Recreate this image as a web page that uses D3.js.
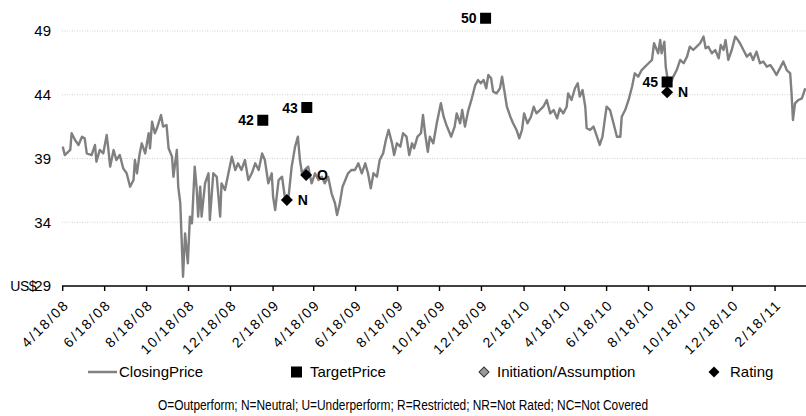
<!DOCTYPE html>
<html><head><meta charset="utf-8">
<script src="https://cdn.jsdelivr.net/npm/d3@7"></script>
<style>body{margin:0;background:#fff}svg{display:block}text{font-family:"Liberation Sans",Arial,sans-serif}</style>
</head><body><svg id="c" width="806" height="416"></svg>
<script>
const closeDates = ["2008-04-18","2008-04-21","2008-04-29","2008-05-01","2008-05-06","2008-05-11","2008-05-16","2008-05-20","2008-05-23","2008-05-30","2008-06-04","2008-06-06","2008-06-11","2008-06-16","2008-06-21","2008-06-23","2008-06-26","2008-07-01","2008-07-05","2008-07-10","2008-07-15","2008-07-20","2008-07-25","2008-07-30","2008-08-01","2008-08-04","2008-08-08","2008-08-11","2008-08-16","2008-08-21","2008-08-23","2008-08-26","2008-08-30","2008-09-02","2008-09-08","2008-09-11","2008-09-16","2008-09-19","2008-09-24","2008-09-26","2008-10-01","2008-10-03","2008-10-06","2008-10-08","2008-10-10","2008-10-13","2008-10-17","2008-10-20","2008-10-23","2008-10-27","2008-10-30","2008-11-01","2008-11-04","2008-11-06","2008-11-11","2008-11-16","2008-11-18","2008-11-23","2008-11-28","2008-12-03","2008-12-05","2008-12-10","2008-12-15","2008-12-20","2008-12-25","2008-12-29","2009-01-03","2009-01-08","2009-01-13","2009-01-18","2009-01-23","2009-01-28","2009-02-02","2009-02-06","2009-02-11","2009-02-16","2009-02-18","2009-02-21","2009-02-26","2009-03-03","2009-03-07","2009-03-12","2009-03-17","2009-03-22","2009-03-26","2009-03-29","2009-04-01","2009-04-05","2009-04-10","2009-04-15","2009-04-20","2009-04-25","2009-04-30","2009-05-04","2009-05-09","2009-05-14","2009-05-19","2009-05-22","2009-05-26","2009-05-30","2009-06-03","2009-06-07","2009-06-12","2009-06-17","2009-06-22","2009-06-27","2009-07-02","2009-07-06","2009-07-10","2009-07-14","2009-07-19","2009-07-23","2009-07-28","2009-08-01","2009-08-05","2009-08-10","2009-08-13","2009-08-17","2009-08-22","2009-08-26","2009-08-31","2009-09-04","2009-09-08","2009-09-11","2009-09-16","2009-09-21","2009-09-24","2009-09-27","2009-10-01","2009-10-04","2009-10-09","2009-10-14","2009-10-20","2009-10-24","2009-10-28","2009-11-04","2009-11-09","2009-11-12","2009-11-17","2009-11-20","2009-11-24","2009-11-29","2009-12-04","2009-12-09","2009-12-13","2009-12-17","2009-12-21","2009-12-25","2009-12-28","2010-01-01","2010-01-04","2010-01-09","2010-01-14","2010-01-17","2010-01-24","2010-01-29","2010-02-02","2010-02-07","2010-02-11","2010-02-15","2010-02-18","2010-02-23","2010-02-28","2010-03-04","2010-03-08","2010-03-13","2010-03-18","2010-03-23","2010-03-28","2010-04-02","2010-04-07","2010-04-11","2010-04-16","2010-04-21","2010-04-23","2010-04-28","2010-05-03","2010-05-07","2010-05-10","2010-05-14","2010-05-18","2010-05-20","2010-05-25","2010-05-30","2010-06-04","2010-06-08","2010-06-12","2010-06-16","2010-06-18","2010-06-23","2010-06-28","2010-07-03","2010-07-08","2010-07-10","2010-07-15","2010-07-20","2010-07-25","2010-07-29","2010-08-03","2010-08-08","2010-08-13","2010-08-18","2010-08-23","2010-08-26","2010-09-01","2010-09-04","2010-09-06","2010-09-10","2010-09-12","2010-09-15","2010-09-20","2010-09-23","2010-09-28","2010-10-03","2010-10-08","2010-10-13","2010-10-17","2010-10-22","2010-10-27","2010-11-01","2010-11-06","2010-11-09","2010-11-13","2010-11-18","2010-11-23","2010-11-28","2010-12-01","2010-12-05","2010-12-08","2010-12-12","2010-12-17","2010-12-22","2010-12-26","2010-12-29","2011-01-03","2011-01-08","2011-01-13","2011-01-17","2011-01-22","2011-01-27","2011-02-01","2011-02-06","2011-02-11","2011-02-16","2011-02-20","2011-02-25","2011-03-02","2011-03-07","2011-03-12","2011-03-14","2011-03-16","2011-03-19","2011-03-24","2011-03-29","2011-04-03"];
const closePrices = [39.93,39.27,39.67,40.98,40.45,40.06,40.71,40.58,39.4,39.27,40.06,38.75,39.67,39.4,40.84,39.93,38.36,39.67,38.88,39.27,38.23,37.84,36.79,37.31,38.88,37.84,39.4,40.19,39.4,40.98,39.8,41.89,40.98,41.37,42.41,41.5,41.63,39.8,39.14,37.57,39.67,36.79,35.49,32.6,29.73,33.13,30.78,34.44,33.92,38.36,36.53,34.44,36.79,34.44,37.05,37.84,34.18,37.84,37.57,34.44,37.05,36.53,37.84,39.14,38.1,38.62,38.1,38.88,37.31,37.84,38.62,38.1,39.4,38.88,37.05,37.84,36.0,34.96,37.31,37.57,36.0,35.75,38.36,39.93,40.71,38.88,37.84,38.1,38.36,37.05,37.84,37.31,37.57,37.05,37.57,36.27,35.49,34.57,35.49,36.79,37.31,37.84,38.1,38.1,38.62,37.84,38.62,37.84,36.66,37.84,37.57,38.88,39.4,40.45,41.24,40.19,39.27,40.19,39.93,40.98,40.71,39.27,40.19,39.8,40.71,40.98,42.41,40.98,39.53,40.71,40.19,41.76,43.33,42.28,41.63,40.71,41.5,42.54,41.76,42.8,41.5,42.8,43.72,44.76,45.16,44.9,45.16,44.51,45.55,45.29,44.24,44.11,44.51,45.42,43.06,42.28,41.76,41.24,40.58,41.24,42.54,41.76,42.28,43.06,42.54,42.8,43.06,43.59,42.54,42.8,42.15,42.93,42.54,43.06,44.11,43.59,44.51,44.9,43.85,44.37,43.06,41.37,41.24,41.5,40.71,40.06,40.71,42.28,43.06,42.8,41.76,40.71,40.71,42.28,42.8,43.59,44.63,45.68,45.42,45.94,46.2,46.47,46.73,48.04,47.25,48.29,47.25,48.16,46.2,45.16,45.02,45.42,45.94,46.73,46.47,46.99,47.77,47.51,47.77,48.04,48.56,47.64,47.77,47.25,47.51,46.86,47.9,47.51,48.29,46.73,47.51,48.56,48.29,48.04,47.51,46.99,47.25,46.73,47.38,46.47,46.6,46.2,46.33,45.94,45.55,46.07,46.6,45.94,45.68,44.11,42.02,43.33,43.59,43.72,44.51];
const targetDates = ["2009-02-03","2009-04-08","2009-12-24","2010-09-14"];
const targetValues = [42,43,50,45];
const ratingDates = ["2009-03-10","2009-04-07","2010-09-14"];
const ratingValues = [35.75,37.7,44.2];
const ratingLabels = ["N","O","N"];
const yTicks = [29,34,39,44,49];
const xTickDates = ["2008-04-18","2008-06-18","2008-08-18","2008-10-18","2008-12-18","2009-02-18","2009-04-18","2009-06-18","2009-08-18","2009-10-18","2009-12-18","2010-02-18","2010-04-18","2010-06-18","2010-08-18","2010-10-18","2010-12-18","2011-02-18"];
const xTickLabels = ["4/18/08","6/18/08","8/18/08","10/18/08","12/18/08","2/18/09","4/18/09","6/18/09","8/18/09","10/18/09","12/18/09","2/18/10","4/18/10","6/18/10","8/18/10","10/18/10","12/18/10","2/18/11"];
const legendLabels = ["ClosingPrice","TargetPrice","Initiation/Assumption","Rating"];
const footnote = "O=Outperform; N=Neutral; U=Underperform; R=Restricted; NR=Not Rated; NC=Not Covered";

const parse = d3.utcParse("%Y-%m-%d");
const svg = d3.select("#c");
const x = d3.scaleUtc().domain([parse("2008-04-18"), parse("2011-04-04")]).range([62.7, 806]);
const y = d3.scaleLinear().domain([29, 49]).range([286, 31]);

// gridlines
svg.append("g").selectAll("line").data(yTicks.slice(1)).join("line")
  .attr("x1", 62).attr("x2", 806).attr("y1", d => y(d)).attr("y2", d => y(d))
  .attr("stroke", "#b0b0b0").attr("stroke-width", 0.6).attr("stroke-dasharray", "1,1.5");

// y labels
svg.append("g").selectAll("text").data(yTicks).join("text")
  .attr("x", 51).attr("y", d => y(d)).attr("dy", "0.36em").attr("text-anchor", "end")
  .attr("font-size", 15).attr("fill", "#000").text(d => d);
svg.append("text").attr("x", 36).attr("y", y(29)).attr("dy", "0.36em").attr("text-anchor", "end")
  .attr("font-size", 14).attr("letter-spacing", -0.5).attr("fill", "#000").text("US$");

// price line
const pts = closeDates.map((d, i) => [parse(d), closePrices[i]]);
svg.append("path").datum(pts)
  .attr("d", d3.line().x(d => x(d[0])).y(d => y(d[1])))
  .attr("fill", "none").attr("stroke", "#808080").attr("stroke-width", 2.4).attr("stroke-linejoin", "round");

// x axis
const xa = svg.append("g").attr("transform", `translate(0,${y(29)})`);
xa.append("line").attr("x1", 62).attr("x2", 806).attr("stroke", "#000").attr("stroke-width", 1.6);
xa.selectAll("line.t").data(xTickDates).join("line").attr("class", "t")
  .attr("x1", d => x(parse(d))).attr("x2", d => x(parse(d))).attr("y1", 0).attr("y2", 5)
  .attr("stroke", "#000").attr("stroke-width", 1.4);
xa.selectAll("text").data(xTickDates).join("text")
  .attr("transform", d => `translate(${x(parse(d)) + 4},${16}) rotate(-45)`)
  .attr("text-anchor", "end").attr("dy", "0.35em").attr("font-size", 14).attr("letter-spacing", 2)
  .text((d, i) => xTickLabels[i]);

// target price squares
const tg = svg.append("g");
targetDates.forEach((d, i) => {
  const cx = x(parse(d)), cy = y(targetValues[i]);
  tg.append("rect").attr("x", cx - 5.5).attr("y", cy - 5.5).attr("width", 11).attr("height", 11).attr("fill", "#000");
  tg.append("text").attr("x", cx - 9).attr("y", cy).attr("dy", "0.36em").attr("text-anchor", "end")
    .attr("font-size", 14).attr("font-weight", "bold").text(targetValues[i]);
});

// rating diamonds
const diamond = d3.symbol().type(d3.symbolSquare).size(72);
ratingDates.forEach((d, i) => {
  const cx = x(parse(d)), cy = y(ratingValues[i]);
  svg.append("path").attr("d", diamond()).attr("transform", `translate(${cx},${cy}) rotate(45)`).attr("fill", "#000");
  svg.append("text").attr("x", cx + 11).attr("y", cy).attr("dy", "0.36em")
    .attr("font-size", 14).attr("font-weight", "bold").text(ratingLabels[i]);
});

// legend
const ly = 372;
const lg = svg.append("g").attr("font-size", 15);
lg.append("line").attr("x1", 88).attr("x2", 117).attr("y1", ly).attr("y2", ly).attr("stroke", "#808080").attr("stroke-width", 2.5);
lg.append("text").attr("x", 119).attr("y", ly).attr("dy", "0.36em").text(legendLabels[0]);
lg.append("rect").attr("x", 291).attr("y", ly - 5.5).attr("width", 11).attr("height", 11).attr("fill", "#000");
lg.append("text").attr("x", 310).attr("y", ly).attr("dy", "0.36em").text(legendLabels[1]);
lg.append("path").attr("d", d3.symbol().type(d3.symbolSquare).size(50)()).attr("transform", `translate(484,${ly}) rotate(45)`)
  .attr("fill", "#9a9a9a").attr("stroke", "#333").attr("stroke-width", 1);
lg.append("text").attr("x", 497).attr("y", ly).attr("dy", "0.36em").text(legendLabels[2]);
lg.append("path").attr("d", d3.symbol().type(d3.symbolSquare).size(60)()).attr("transform", `translate(714,${ly}) rotate(45)`).attr("fill", "#000");
lg.append("text").attr("x", 730).attr("y", ly).attr("dy", "0.36em").text(legendLabels[3]);

svg.append("text").attr("x", 403).attr("y", 405).attr("dy", "0.36em").attr("text-anchor", "middle")
  .attr("font-size", 14).attr("textLength", 490).attr("lengthAdjust", "spacingAndGlyphs").text(footnote);
</script></body></html>
